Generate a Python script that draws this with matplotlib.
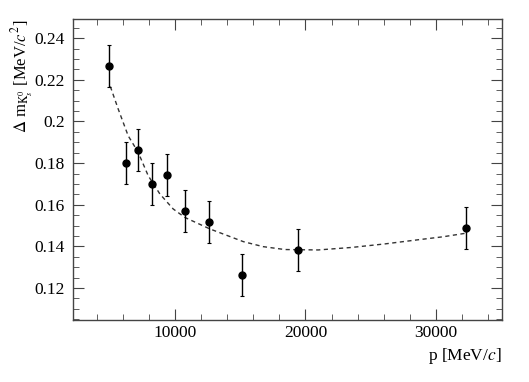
import numpy as np
import matplotlib.pyplot as plt
from matplotlib.ticker import MultipleLocator

plt.rcParams['font.family'] = ['Liberation Serif', 'DejaVu Serif']
plt.rcParams['mathtext.fontset'] = 'stix'

# measured points
p = [4970, 6220, 7190, 8215, 9365, 10770, 12580, 15160, 19390, 32320]
dm = [0.2267, 0.1802, 0.1863, 0.1701, 0.1743, 0.1572, 0.1519, 0.1261, 0.1383, 0.1487]
dm_err = [0.0102, 0.0101, 0.0100, 0.0101, 0.0101, 0.0101, 0.0101, 0.0101, 0.0101, 0.0101]

# fit curve
fit_p = [5060, 5655, 6420, 7190, 7955, 8850, 9870, 10770, 12680, 15240, 16750,
         18420, 20970, 23525, 26080, 28635, 30500, 32240]
fit_dm = [0.2168, 0.2061, 0.1932, 0.1852, 0.1740, 0.1652, 0.1580, 0.1539, 0.1484,
          0.1423, 0.1399, 0.1385, 0.1383, 0.1395, 0.1412, 0.1432, 0.1446, 0.1463]

fig = plt.figure(figsize=(5.29, 3.82), dpi=100)
ax = fig.add_axes([0.138, 0.162, 0.811, 0.787])

ax.plot(fit_p, fit_dm, '--', color='#333333', lw=1.0, dashes=(3, 2.5))
ax.errorbar(p, dm, yerr=dm_err, fmt='o', color='black', ms=5, elinewidth=1.0,
            capsize=1.5, capthick=0.8)

ax.set_xlim(2200, 35050)
ax.set_ylim(0.1046, 0.249)

ax.xaxis.set_major_locator(MultipleLocator(10000))
ax.xaxis.set_minor_locator(MultipleLocator(2000))
ax.yaxis.set_major_locator(MultipleLocator(0.02))
ax.yaxis.set_minor_locator(MultipleLocator(0.005))
ax.set_yticks([0.12, 0.14, 0.16, 0.18, 0.2, 0.22, 0.24])
ax.set_yticklabels(['0.12', '0.14', '0.16', '0.18', '0.2', '0.22', '0.24'])

ax.tick_params(which='both', direction='in', top=True, right=True, labelsize=12.5,
               color='#444444')
ax.tick_params(which='major', length=8)
ax.tick_params(which='minor', length=4)
ax.tick_params(axis='y', which='major', pad=6)
for s in ax.spines.values():
    s.set_color('#444444')
    s.set_linewidth(1.0)

ax.set_xlabel('p [MeV/$c$]', fontsize=12.5, ha='right')
ax.xaxis.set_label_coords(1.0, -0.087)
ax.set_ylabel(r'$\Delta$ m$_{\mathrm{K}^0_s}$ [MeV/$c^2$]', fontsize=12, ha='right')
ax.yaxis.set_label_coords(-0.088, 1.0)

plt.savefig('out.png', dpi=100)
